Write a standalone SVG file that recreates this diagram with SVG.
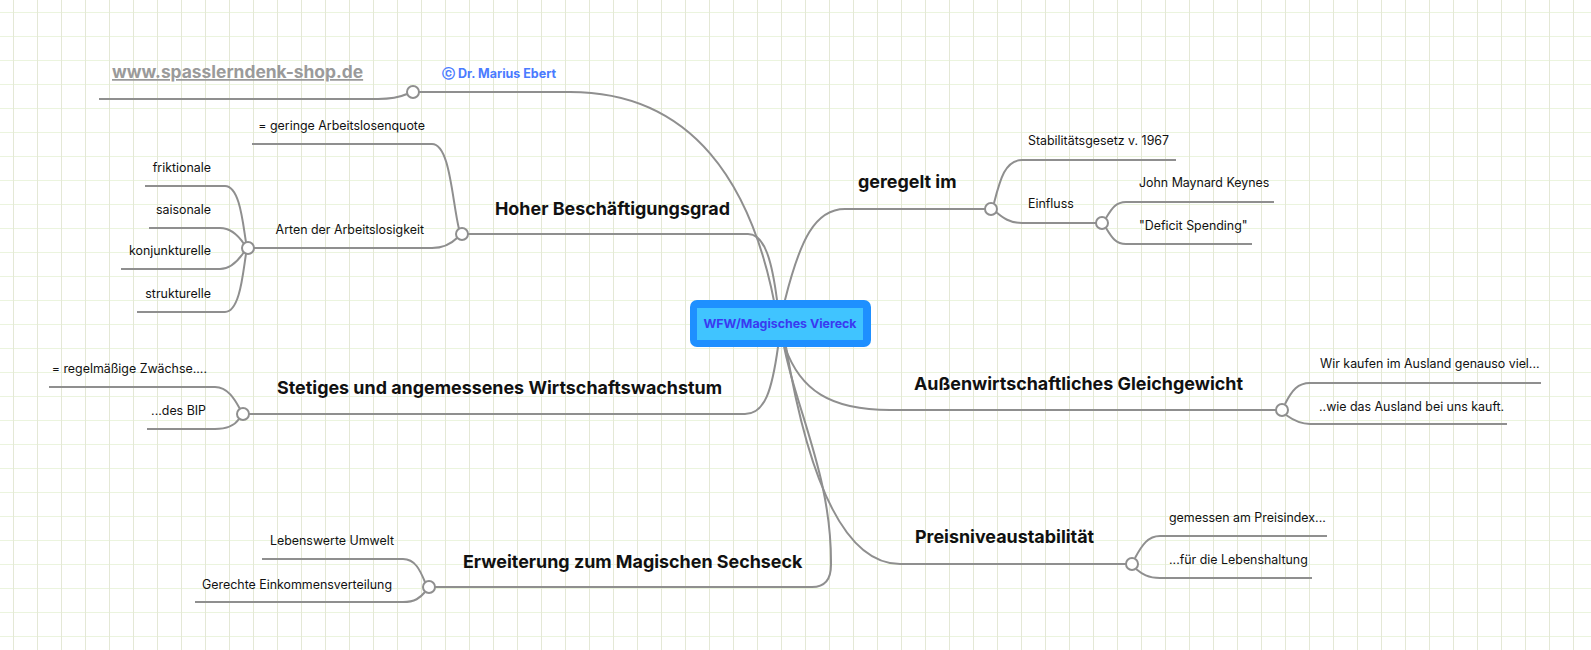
<svg xmlns="http://www.w3.org/2000/svg" width="1591" height="650" viewBox="0 0 1591 650">
<defs>
<pattern id="grid" patternUnits="userSpaceOnUse" x="13" y="12" width="24" height="24">
<rect x="0" y="0" width="24" height="1" fill="#ebf4de"/>
<rect x="0" y="0" width="1" height="24" fill="#e4e8d6"/>
</pattern>
<style>
.c{fill:none;stroke:#8f8f8f;stroke-width:2}
.dot{fill:#fff;stroke:#8f8f8f;stroke-width:2}
.h{font-family:Inter,"Liberation Sans",sans-serif;font-weight:700;font-size:17.9px;fill:#111}
.t{font-family:Inter,"Liberation Sans",sans-serif;font-size:12.4px;fill:#111}
</style>
</defs>
<rect width="1591" height="650" fill="#fff"/>
<rect width="1591" height="650" fill="url(#grid)"/>
<g id="connectors">
<path class="c" d="M778,323 C755,180 690,92 570,92 H419"/>
<path class="c" d="M407,94 C398,98 390,99 378,99 H99"/>
<path class="c" d="M778,323 L777,300 C772,262 765,234 748,234 H468"/>
<path class="c" d="M252,144 H432 C450,144 452,200 459,229"/>
<path class="c" d="M457,238 C450,245 443,248 432,248 H254"/>
<path class="c" d="M145,186 H225 C240,186 243,225 246,242"/>
<path class="c" d="M149,228 H220 C232,228 240,238 244,244"/>
<path class="c" d="M121,269 H220 C232,269 240,258 244,252"/>
<path class="c" d="M137,312 H225 C240,312 243,272 246,254"/>
<path class="c" d="M782,323 L785,300 C800,240 815,209 845,209 H985"/>
<path class="c" d="M994,203 C1000,180 1005,160 1022,160 H1176"/>
<path class="c" d="M996,212 C1003,218 1010,223 1022,223 H1096"/>
<path class="c" d="M1106,218 C1112,208 1116,202 1126,202 H1274"/>
<path class="c" d="M1106,228 C1112,238 1116,244 1126,244 H1252"/>
<path class="c" d="M778,323 L778,347 C772,390 765,414 745,414 H249"/>
<path class="c" d="M49,387 H215 C228,387 235,400 240,409"/>
<path class="c" d="M147,429 H215 C228,429 235,425 239,419"/>
<path class="c" d="M782,323 L785,347 C800,390 830,410 890,410 H1276"/>
<path class="c" d="M1285,404 C1292,390 1298,383 1310,383 H1541"/>
<path class="c" d="M1286,415 C1293,420 1300,424 1310,424 H1507"/>
<path class="c" d="M782,323 L786,347 C800,430 830,564 900,564 H1126"/>
<path class="c" d="M1135,558 C1142,545 1148,536 1160,536 H1327"/>
<path class="c" d="M1136,569 C1142,574 1148,578 1160,578 H1312"/>
<path class="c" d="M780,323 C790,400 832,470 831,565 Q831,587 812,587 H435"/>
<path class="c" d="M262,559 H403 C415,559 420,570 425,582"/>
<path class="c" d="M195,602 H403 C415,602 420,598 425,592"/>
</g>
<g id="root">
<rect x="690" y="300" width="181" height="47" rx="7" fill="#1e90ff"/>
<rect x="697" y="308" width="166" height="32" fill="#40c4ff"/>
<text x="780" y="327.5" text-anchor="middle" font-family="Inter,'Liberation Sans',sans-serif" font-weight="700" font-size="12.4" fill="#3a3af0">WFW/Magisches Viereck</text>
</g>
<g id="n-ebert">
<circle class="dot" cx="413" cy="92" r="6"/>
<text x="442" y="78" font-family="Inter,'Liberation Sans','DejaVu Sans',sans-serif" font-weight="700" font-size="12.5" fill="#4a7bff">ⓒ Dr. Marius Ebert</text>
</g>
<g id="n-www">
<text x="112" y="78" font-family="Inter,'Liberation Sans',sans-serif" font-weight="700" font-size="17.4" fill="#9a9a9a" text-decoration="underline">www.spasslerndenk-shop.de</text>
</g>
<g id="n-hoher">
<circle class="dot" cx="462" cy="234" r="6"/>
<text class="h" x="495" y="215">Hoher Beschäftigungsgrad</text>
</g>
<g id="n-quote"><text class="t" x="425" y="130" text-anchor="end">= geringe Arbeitslosenquote</text></g>
<g id="n-arten">
<circle class="dot" cx="248" cy="248" r="6"/>
<text class="t" x="424" y="234" text-anchor="end">Arten der Arbeitslosigkeit</text>
</g>
<g id="n-frik"><text class="t" x="211" y="172" text-anchor="end">friktionale</text></g>
<g id="n-sais"><text class="t" x="211" y="214" text-anchor="end">saisonale</text></g>
<g id="n-konj"><text class="t" x="211" y="255" text-anchor="end">konjunkturelle</text></g>
<g id="n-strukt"><text class="t" x="211" y="298" text-anchor="end">strukturelle</text></g>
<g id="n-geregelt">
<circle class="dot" cx="991" cy="209" r="6"/>
<text class="h" x="858" y="188">geregelt im</text>
</g>
<g id="n-stab"><text class="t" x="1028" y="145">Stabilitätsgesetz v. 1967</text></g>
<g id="n-einfluss">
<circle class="dot" cx="1102" cy="223" r="6"/>
<text class="t" x="1028" y="208">Einfluss</text>
</g>
<g id="n-keynes"><text class="t" x="1139" y="187">John Maynard Keynes</text></g>
<g id="n-deficit"><text class="t" x="1139" y="230">"Deficit Spending"</text></g>
<g id="n-stetig">
<circle class="dot" cx="243" cy="414" r="6"/>
<text class="h" x="277" y="394">Stetiges und angemessenes Wirtschaftswachstum</text>
</g>
<g id="n-regel"><text class="t" x="207" y="373" text-anchor="end">= regelmäßige Zwächse....</text></g>
<g id="n-bip"><text class="t" x="206" y="415" text-anchor="end">...des BIP</text></g>
<g id="n-aussen">
<circle class="dot" cx="1282" cy="410" r="6"/>
<text class="h" x="914" y="390">Außenwirtschaftliches Gleichgewicht</text>
</g>
<g id="n-wir"><text class="t" x="1320" y="368">Wir kaufen im Ausland genauso viel...</text></g>
<g id="n-wie"><text class="t" x="1319" y="411">..wie das Ausland bei uns kauft.</text></g>
<g id="n-preis">
<circle class="dot" cx="1132" cy="564" r="6"/>
<text class="h" x="915" y="543">Preisniveaustabilität</text>
</g>
<g id="n-gemessen"><text class="t" x="1169" y="522">gemessen am Preisindex...</text></g>
<g id="n-fuer"><text class="t" x="1169" y="564">...für die Lebenshaltung</text></g>
<g id="n-erw">
<circle class="dot" cx="429" cy="587" r="6"/>
<text class="h" x="463" y="568">Erweiterung zum Magischen Sechseck</text>
</g>
<g id="n-umwelt"><text class="t" x="394" y="545" text-anchor="end">Lebenswerte Umwelt</text></g>
<g id="n-eink"><text class="t" x="392" y="589" text-anchor="end">Gerechte Einkommensverteilung</text></g>
</svg>
